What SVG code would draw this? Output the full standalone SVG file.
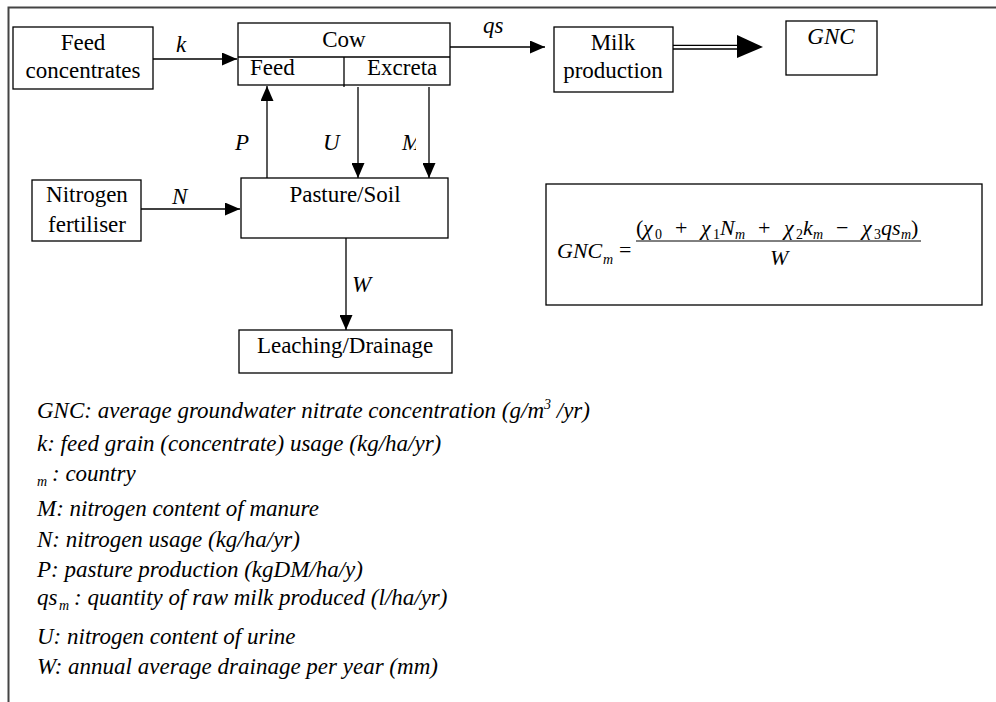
<svg xmlns="http://www.w3.org/2000/svg" width="996" height="702" viewBox="0 0 996 702">
<style>
text { font-family: "Liberation Serif", "Times New Roman", serif; fill: #000; }
.box { fill: #fff; stroke: #000; stroke-width: 1.3; }
.lbl { font-size: 23px; text-anchor: middle; }
.lft { font-size: 23px; }
.it { font-style: italic; font-size: 23px; }
.leg { font-style: italic; font-size: 23px; }
.conn { stroke: #000; stroke-width: 1.3; fill: none; }
.eq { font-size: 22px; }
.sub { font-size: 14px; }
.v { font-style: italic; }
</style>
<defs>
<marker id="ah" markerUnits="userSpaceOnUse" markerWidth="16" markerHeight="13" refX="15" refY="6.5" orient="auto">
<path d="M0,0 L15,6.5 L0,13 z" fill="#000"/>
</marker>
<clipPath id="clipM"><rect x="395" y="125" width="21" height="35"/></clipPath>
</defs>
<rect width="996" height="702" fill="#fff"/>
<g id="frame"><path d="M8.5,702 V7.5 H996" stroke="#444" stroke-width="2" fill="none"/></g>

<g id="connectors">
<line class="conn" x1="153" y1="59" x2="237" y2="59" marker-end="url(#ah)"/>
<line class="conn" x1="450" y1="47" x2="545" y2="47" marker-end="url(#ah)"/>
<line class="conn" x1="673" y1="45.3" x2="740" y2="45.3"/>
<line class="conn" x1="673" y1="49" x2="740" y2="49"/>
<polygon points="737,35 763,47 737,58" fill="#000"/>
<line class="conn" x1="267" y1="178" x2="267" y2="86" marker-end="url(#ah)"/>
<line class="conn" x1="358" y1="87" x2="358" y2="178" marker-end="url(#ah)"/>
<line class="conn" x1="429" y1="87" x2="429" y2="178" marker-end="url(#ah)"/>
<line class="conn" x1="141" y1="209" x2="240" y2="209" marker-end="url(#ah)"/>
<line class="conn" x1="346" y1="238" x2="346" y2="330" marker-end="url(#ah)"/>
<text class="it" x="176" y="52">k</text>
<text class="it" x="483" y="33">qs</text>
<text class="it" x="235" y="150">P</text>
<text class="it" x="323" y="150">U</text>
<text class="it" x="402" y="150" clip-path="url(#clipM)">M</text>
<text class="it" x="172" y="204">N</text>
<text class="it" x="352" y="292">W</text>
</g>

<g id="feed-concentrates">
<rect class="box" x="13" y="27" width="140" height="62"/>
<text class="lbl" x="83" y="50">Feed</text>
<text class="lbl" x="83" y="78">concentrates</text>
</g>

<g id="cow">
<rect class="box" x="238" y="23" width="212" height="62"/>
<line class="conn" x1="238" y1="57" x2="450" y2="57"/>
<line class="conn" x1="344" y1="57" x2="344" y2="87"/>
<text class="lbl" x="344" y="47">Cow</text>
<text class="lft" x="250" y="75">Feed</text>
<text class="lft" x="367" y="75">Excreta</text>
</g>

<g id="milk-production">
<rect class="box" x="554" y="27" width="119" height="65"/>
<text class="lbl" x="613" y="50">Milk</text>
<text class="lbl" x="613" y="78">production</text>
</g>

<g id="gnc">
<rect class="box" x="786" y="21" width="91" height="54"/>
<text class="it" x="831" y="44" text-anchor="middle">GNC</text>
</g>

<g id="nitrogen-fertiliser">
<rect class="box" x="32" y="180" width="109" height="61"/>
<text class="lbl" x="87" y="202">Nitrogen</text>
<text class="lbl" x="87" y="232">fertiliser</text>
</g>

<g id="pasture-soil">
<rect class="box" x="241" y="178" width="207" height="60"/>
<text class="lbl" x="345" y="202">Pasture/Soil</text>
</g>

<g id="leaching-drainage">
<rect class="box" x="239" y="330" width="213" height="43"/>
<text class="lbl" x="345" y="353">Leaching/Drainage</text>
</g>

<g id="formula">
<rect class="box" x="546" y="184" width="436" height="121"/>
<text class="eq">
<tspan x="557" y="258" class="v">GNC</tspan>
<tspan x="603" y="264" class="sub v">m</tspan>
<tspan x="619" y="257">=</tspan>
<tspan x="636" y="235">(</tspan>
<tspan x="643" y="235" class="v">χ</tspan>
<tspan x="655" y="239" class="sub">0</tspan>
<tspan x="675" y="235">+</tspan>
<tspan x="701" y="235" class="v">χ</tspan>
<tspan x="713" y="239" class="sub">1</tspan>
<tspan x="720" y="235" class="v">N</tspan>
<tspan x="735" y="239" class="sub v">m</tspan>
<tspan x="758" y="235">+</tspan>
<tspan x="784" y="235" class="v">χ</tspan>
<tspan x="796" y="239" class="sub">2</tspan>
<tspan x="803" y="235" class="v">k</tspan>
<tspan x="813" y="239" class="sub v">m</tspan>
<tspan x="836" y="235">−</tspan>
<tspan x="862" y="235" class="v">χ</tspan>
<tspan x="874" y="239" class="sub">3</tspan>
<tspan x="881" y="235" class="v">qs</tspan>
<tspan x="901" y="239" class="sub v">m</tspan>
<tspan x="911" y="235">)</tspan>
<tspan x="770" y="265" class="v">W</tspan>
</text>
<line x1="636" y1="241" x2="921" y2="241" stroke="#000" stroke-width="1"/>
</g>

<g id="legend">
<text class="leg" x="37" y="418">GNC: average groundwater nitrate concentration (g/m<tspan font-size="14" dy="-9">3</tspan><tspan dy="9"> /yr)</tspan></text>
<text class="leg" x="37" y="451">k: feed grain (concentrate) usage (kg/ha/yr)</text>
<text class="leg" x="37" y="486" style="font-size:14px">m</text>
<text class="leg" x="52" y="481">: country</text>
<text class="leg" x="37" y="516">M: nitrogen content of manure</text>
<text class="leg" x="37" y="547">N: nitrogen usage (kg/ha/yr)</text>
<text class="leg" x="37" y="577">P: pasture production (kgDM/ha/y)</text>
<text class="leg" x="37" y="605">qs</text>
<text class="leg" x="59" y="610" style="font-size:14px">m</text>
<text class="leg" x="74" y="605">: quantity of raw milk produced (l/ha/yr)</text>
<text class="leg" x="37" y="644">U: nitrogen content of urine</text>
<text class="leg" x="37" y="674">W: annual average drainage per year (mm)</text>
</g>
</svg>
